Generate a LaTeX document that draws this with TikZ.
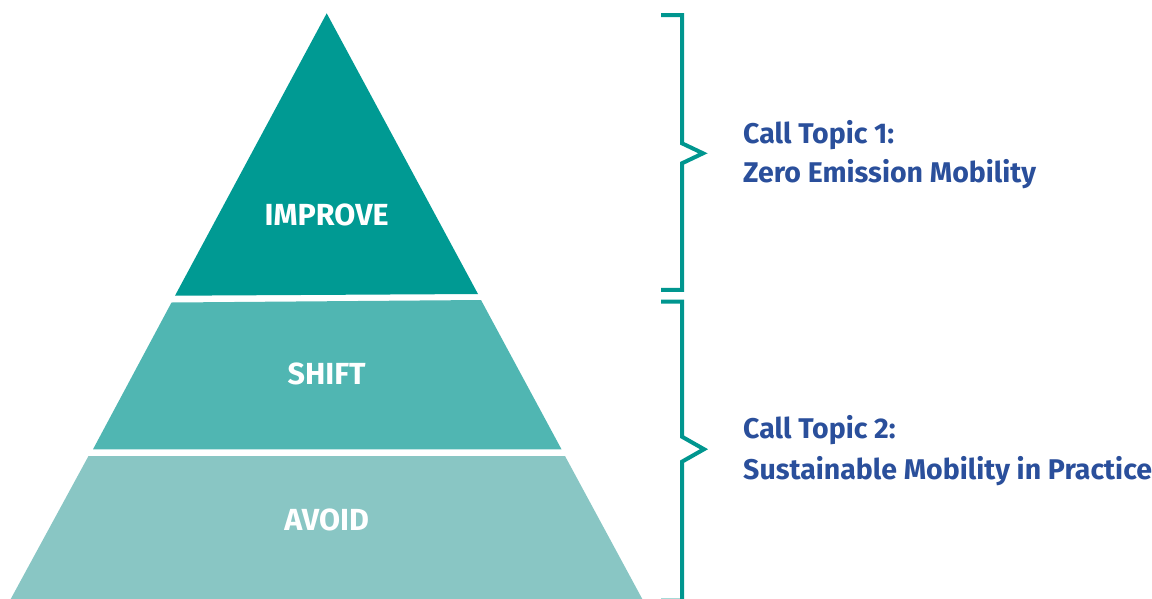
\documentclass[tikz,border=0pt]{standalone}
\usepackage{fontspec}
\setmainfont{Fira Sans}
\definecolor{improvecol}{HTML}{009A93}
\definecolor{shiftcol}{HTML}{50B6B2}
\definecolor{avoidcol}{HTML}{89C6C4}
\definecolor{bracecol}{HTML}{00968F}
\definecolor{topiccol}{HTML}{2A4F9B}
\begin{document}
\begin{tikzpicture}[x=1pt,y=-1pt,
  level/.style={text=white,font=\bfseries\fontsize{30.5}{30.5}\selectfont,inner sep=0pt},
  topic/.style={text=topiccol,font=\bfseries\fontsize{28.5}{28.5}\selectfont,inner sep=0pt,anchor=base west},
  bracket/.style={draw=bracecol,line width=4pt,miter limit=10}]
\useasboundingbox (0,0) rectangle (1152,598);
% pyramid bands
\fill[improvecol] (326.7,13.3) -- (478,294) -- (175,295.7) -- cycle;
\fill[shiftcol] (171.5,302.5) -- (481,300) -- (561.5,449.3) -- (93,449.3) -- cycle;
\fill[avoidcol] (88.5,456) -- (565,456) -- (645,604) -- (8,604) -- cycle;
% band labels
\node[level] (improve) at (326.7,214.5) {IMPROVE};
\node[level] (shift) at (326.7,373.5) {SHIFT};
\node[level] (avoid) at (326.7,519.5) {AVOID};
% brackets
\draw[bracket] (661,15) -- (682,15) -- (682,143.3) -- (703,153.3) -- (682,163.3) -- (682,289.8) -- (661,289.8);
\draw[bracket] (661,301.7) -- (682,301.7) -- (682,436.7) -- (704,449.2) -- (682,461.7) -- (682,600.5) -- (661,600.5);
% call topics
\node[topic] (t1a) at (743,143.3) {Call Topic 1:};
\node[topic] (t1b) at (743,182.7) {Zero Emission Mobility};
\node[topic] (t2a) at (743,438.3) {Call Topic 2:};
\node[topic] (t2b) at (743,479) {Sustainable Mobility in Practice};
\end{tikzpicture}
\end{document}
